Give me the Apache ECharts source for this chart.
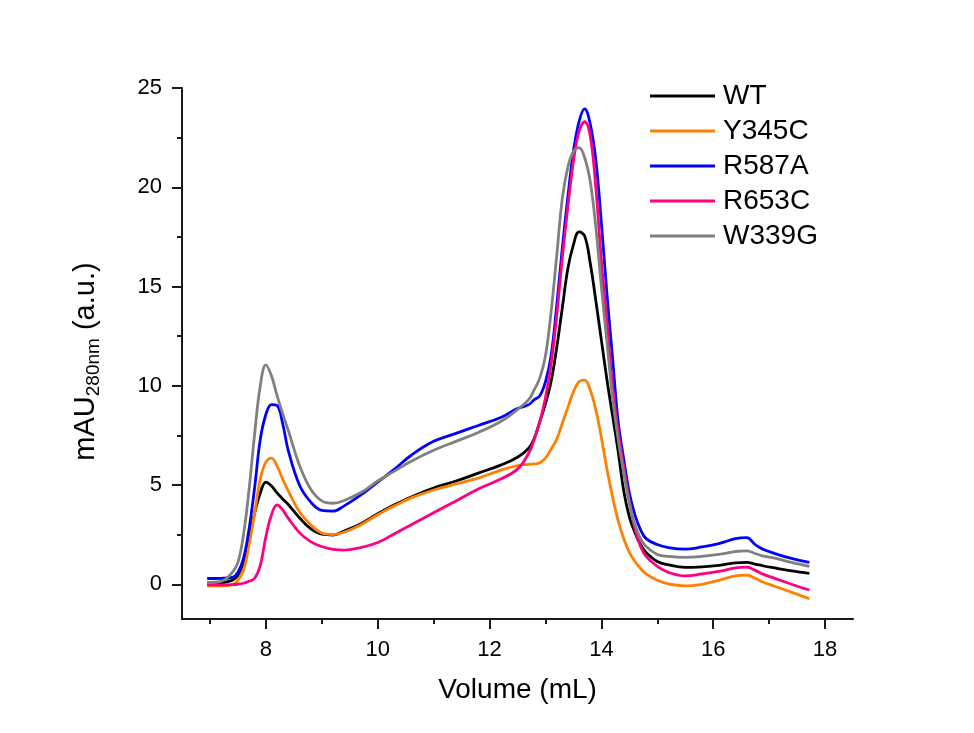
<!DOCTYPE html>
<html>
<head>
<meta charset="utf-8">
<script src="https://cdn.jsdelivr.net/npm/echarts@6/dist/echarts.min.js"></script>
<style>
html,body{margin:0;padding:0;background:#fff;}
#chart{width:974px;height:733px;}
</style>
</head>
<body>
<div id="chart"></div>
<script>
// Volume (mL) sample positions
var volume = [6.95,7.2,7.4,7.5,7.6,7.7,7.8,7.9,8.0,8.1,8.2,8.3,8.4,8.6,8.8,9.0,9.2,9.4,9.7,10.0,10.3,10.6,11.0,11.4,11.8,12.2,12.5,12.7,12.8,12.9,13.0,13.1,13.2,13.3,13.4,13.5,13.6,13.7,13.8,13.9,14.0,14.1,14.2,14.3,14.4,14.5,14.6,14.7,14.8,15.0,15.2,15.5,15.8,16.1,16.4,16.6,16.75,16.9,17.1,17.4,17.72];

var wt    = [0.05,0.07,0.2,0.45,1.1,2.2,3.6,4.6,5.15,4.95,4.6,4.3,4.02,3.35,2.8,2.52,2.48,2.68,3.05,3.55,4.0,4.4,4.85,5.2,5.6,6.0,6.4,6.85,7.35,8.2,9.1,10.2,11.9,13.9,15.9,17.1,17.75,17.55,16.2,14.3,12.3,10.3,8.5,6.7,4.7,3.4,2.6,2.0,1.6,1.15,0.98,0.85,0.88,0.95,1.08,1.1,1.02,0.92,0.82,0.68,0.55];
var y345c = [-0.08,-0.08,-0.02,0.2,0.7,2.0,3.6,5.3,6.15,6.35,5.95,5.3,4.7,3.65,3.0,2.58,2.5,2.62,3.0,3.5,3.95,4.35,4.75,5.05,5.35,5.75,5.98,6.04,6.06,6.12,6.35,6.8,7.3,8.1,8.9,9.7,10.2,10.28,9.8,8.8,7.4,5.8,4.4,3.2,2.3,1.6,1.15,0.8,0.52,0.2,0.02,-0.08,0.0,0.2,0.42,0.46,0.3,0.1,-0.1,-0.4,-0.73];
var r587a = [0.29,0.3,0.35,0.6,1.3,2.8,4.9,7.3,8.55,9.05,9.0,8.1,6.75,5.0,4.15,3.72,3.68,3.95,4.5,5.15,5.8,6.5,7.2,7.6,8.0,8.4,8.85,9.05,9.3,9.5,10.2,11.5,14.0,16.9,19.5,21.8,23.3,23.95,23.2,21.4,18.2,14.6,11.4,8.2,6.3,4.6,3.5,2.75,2.3,2.0,1.85,1.77,1.88,2.05,2.3,2.35,2.0,1.75,1.55,1.3,1.1];
var r653c = [-0.03,-0.03,-0.02,0.0,0.05,0.15,0.3,0.95,2.4,3.5,4.0,3.75,3.33,2.6,2.15,1.9,1.76,1.72,1.85,2.1,2.55,3.0,3.6,4.2,4.8,5.3,5.8,6.6,7.3,8.2,9.4,11.06,13.5,16.4,19.0,21.3,22.8,23.3,22.6,20.0,16.3,13.2,10.0,7.7,5.9,4.2,2.8,1.9,1.4,0.9,0.6,0.42,0.52,0.65,0.82,0.86,0.7,0.5,0.3,0.0,-0.29];
var w339g = [0.09,0.15,0.6,1.1,2.5,4.8,7.6,10.0,11.05,10.5,9.5,8.6,7.75,6.0,4.8,4.2,4.08,4.22,4.62,5.2,5.7,6.2,6.75,7.2,7.65,8.2,8.8,9.3,9.8,10.4,11.5,13.7,16.5,19.4,21.0,21.8,22.0,21.5,20.3,18.0,15.0,12.2,9.4,7.3,5.6,4.1,3.0,2.3,1.9,1.5,1.4,1.35,1.4,1.5,1.65,1.68,1.55,1.42,1.32,1.1,0.9];

var seriesNames = ['WT','Y345C','R587A','R653C','W339G'];
var seriesColors = ['#000000','#FF8000','#0000FF','#FF0080','#808080'];
var seriesValues = [wt, y345c, r587a, r653c, w339g];

var xMajorTicks = [8,10,12,14,16,18];
var xMinorTicks = [7,9,11,13,15,17];
var yMajorTicks = [0,5,10,15,20,25];
var yMinorTicks = [2.5,7.5,12.5,17.5,22.5];

var FONT = '"Liberation Sans", Arial, sans-serif';
var AXIS_COLOR = '#1a1a1a';

function pairs(vals){ return volume.map(function(v,i){ return [v, vals[i]]; }); }

var series = seriesNames.map(function(name, i){
  return {
    name: name,
    type: 'line',
    data: pairs(seriesValues[i]),
    xAxisIndex: 0,
    yAxisIndex: 0,
    symbol: 'none',
    smooth: 0.4,
    lineStyle: { color: seriesColors[i], width: 2.8 },
    itemStyle: { color: seriesColors[i] },
    z: 2 + i
  };
});

var chart = echarts.init(document.getElementById('chart'), null, {renderer: 'canvas'});
chart.setOption({
  animation: false,
  backgroundColor: '#ffffff',
  grid: { left: 182, right: 121, top: 88, bottom: 114, containLabel: false, outerBoundsMode: 'none' },
  legend: {
    orient: 'vertical',
    left: 650,
    top: 81,
    padding: 0,
    data: seriesNames,
    icon: 'rect',
    itemWidth: 65,
    itemHeight: 3,
    itemGap: 5,
    textStyle: { fontFamily: FONT, fontSize: 28, color: '#000', lineHeight: 30, padding: [0,0,0,3] }
  },
  xAxis: [
    {
      type: 'value', min: 6.5, max: 18.5, position: 'bottom',
      name: 'Volume (mL)', nameLocation: 'middle', nameGap: 57,
      nameTextStyle: { fontFamily: FONT, fontSize: 28, color: '#000' },
      axisLine: { show: true, onZero: false, lineStyle: { color: AXIS_COLOR, width: 2 } },
      axisTick: { show: true, inside: false, length: 10, customValues: xMajorTicks, lineStyle: { color: AXIS_COLOR, width: 2 } },
      axisLabel: { customValues: xMajorTicks, margin: 20, fontFamily: FONT, fontSize: 22, color: '#000' },
      splitLine: { show: false }
    },
    {
      type: 'value', min: 6.5, max: 18.5, position: 'bottom',
      axisLine: { show: false, onZero: false },
      axisTick: { show: true, inside: false, length: 5, customValues: xMinorTicks, lineStyle: { color: AXIS_COLOR, width: 2 } },
      axisLabel: { show: false },
      splitLine: { show: false }
    }
  ],
  yAxis: [
    {
      type: 'value', min: -1.75, max: 25, position: 'left',
      name: '{a|mAU}{s|280nm}{e| (a.u.)}', nameLocation: 'middle', nameGap: 79, nameRotate: 90,
      nameTextStyle: {
        fontFamily: FONT, color: '#000',
        rich: {
          a: { fontFamily: FONT, fontSize: 29, color: '#000' },
          e: { fontFamily: FONT, fontSize: 29, color: '#000', padding: [0,16,0,0] },
          s: { fontFamily: FONT, fontSize: 19, color: '#000', verticalAlign: 'bottom', padding: [16,0,0,0] }
        }
      },
      axisLine: { show: true, onZero: false, lineStyle: { color: AXIS_COLOR, width: 2 } },
      axisTick: { show: true, inside: false, length: 10, customValues: yMajorTicks, lineStyle: { color: AXIS_COLOR, width: 2 } },
      axisLabel: { customValues: yMajorTicks, margin: 20, fontFamily: FONT, fontSize: 22, color: '#000' },
      splitLine: { show: false }
    },
    {
      type: 'value', min: -1.75, max: 25, position: 'left',
      axisLine: { show: false, onZero: false },
      axisTick: { show: true, inside: false, length: 5, customValues: yMinorTicks, lineStyle: { color: AXIS_COLOR, width: 2 } },
      axisLabel: { show: false },
      splitLine: { show: false }
    }
  ],
  series: series
});
</script>
</body>
</html>
